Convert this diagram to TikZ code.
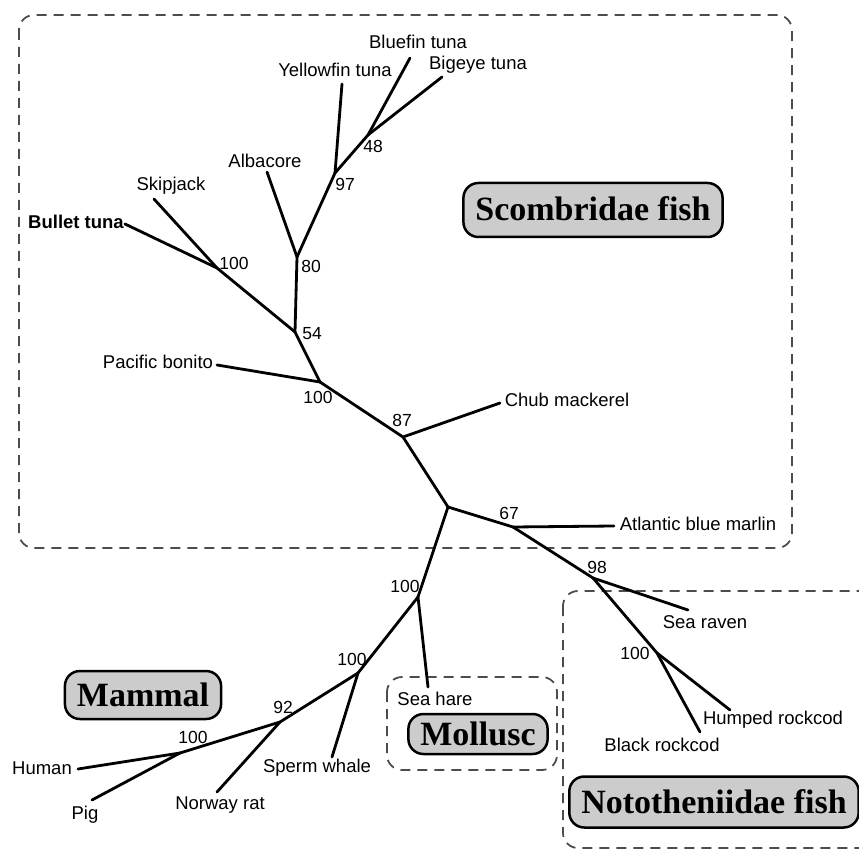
\documentclass[tikz,border=0pt]{standalone}
\usepackage{fontspec}
\setmainfont{Liberation Sans}
\newfontfamily\groupfont{Liberation Serif}

\tikzset{%
  branch/.style={line width=2.8pt, line cap=round},
  species/.style={font=\fontsize{18.5}{20}\selectfont, inner sep=0pt},
  support/.style={font=\fontsize{17.5}{19}\selectfont, inner sep=0pt},
  group box/.style={draw=black!70, line width=1.8pt, dash pattern=on 10pt off 7pt, rounded corners=15pt},
  group label/.style={draw, line width=2.5pt, fill=black!20, rounded corners=15pt,
    font=\groupfont\bfseries\fontsize{34}{36}\selectfont, inner xsep=12pt, inner ysep=0pt,
    text height=23pt, text depth=1pt},
}

\begin{document}
\begin{tikzpicture}[x=1pt, y=-1pt]
\useasboundingbox (0,0) rectangle (859,850);
%=========================================================================================================
% Group boxes
%=========================================================================================================
\draw [group box] (19,15) rectangle (792,548);
\draw [group box] (387,677) rectangle (557,770);
\begin{scope}
  \clip (0,0) rectangle (859,850);
  \draw [group box] (563,591) rectangle (900,848);
\end{scope}

%=========================================================================================================
% Inner nodes of the tree
%=========================================================================================================
\foreach \n/\x/\y in {root/448/507, n87/403/437, n100b/320/382, n54/295/332, n100a/217/268,
                      n80/297/257, n97/335/173, n48/368/135, n67/513/527, n98/593/578,
                      n100c/657/653, n100d/418/597, n100e/358/673, n92/280/722, n100f/180/753}
  \coordinate (\n) at (\x,\y);

%Tips of the branches
\foreach \n/\x/\y in {bluefin/410/58, bigeye/442/77, yellowfin/342/84, albacore/267/172,
                      skipjack/154/199, bullet/125/224, bonito/217/365, chub/500/403,
                      marlin/614/526, raven/688/610, humped/730/710, black/700/732,
                      seahare/428/687, sperm/332/757, rat/217/792, human/78/769, pig/92/800}
  \coordinate (\n) at (\x,\y);

%=========================================================================================================
% Draw branches
%=========================================================================================================
\foreach \a/\b in {root/n87, n87/n100b, n87/chub, n100b/bonito, n100b/n54, n54/n100a, n54/n80,
                   n100a/skipjack, n100a/bullet, n80/albacore, n80/n97, n97/yellowfin, n97/n48,
                   n48/bluefin, n48/bigeye, root/n67, n67/marlin, n67/n98, n98/raven, n98/n100c,
                   n100c/humped, n100c/black, root/n100d, n100d/seahare, n100d/n100e, n100e/sperm,
                   n100e/n92, n92/rat, n92/n100f, n100f/human, n100f/pig}
  \draw [branch] (\a) -- (\b);

%=========================================================================================================
% Species names
%=========================================================================================================
\foreach \n/\x/\y/\l in {bluefin/418/42/Bluefin tuna, bigeye/478/65/Bigeye tuna,
                         yellowfin/335/70/Yellowfin tuna, albacore/265/161/Albacore,
                         skipjack/171/186/Skipjack, bonito/158/362/Pacific bonito,
                         chub/567/400/Chub mackerel, marlin/698/524/Atlantic blue marlin,
                         raven/705/622/Sea raven, humped/773/720/Humped rockcod,
                         black/662/745/Black rockcod, seahare/435/699/Sea hare,
                         sperm/317/768/Sperm whale, rat/220/805/Norway rat,
                         human/42/768/Human, pig/85/815/Pig}
  \node [species] (name-\n) at (\x,\y) {\l};
\node [species, font=\fontsize{18.5}{20}\selectfont\bfseries] (name-bullet) at (76,222) {Bullet tuna};

%Bootstrap values next to the inner nodes
\foreach \n/\x/\y/\l in {n48/373/146/48, n97/345/184/97, n80/311/266/80, n100a/234/263/100,
                         n54/312/334/54, n100b/318/397/100, n87/402/420/87, n67/509/513/67,
                         n98/597/567/98, n100c/635/653/100, n100d/405/586/100,
                         n100e/352/659/100, n92/283/707/92, n100f/193/737/100}
  \node [support] (value-\n) at (\x,\y) {\l};

%=========================================================================================================
% Group headers
%=========================================================================================================
\node [group label, minimum height=54pt] (scombridae) at (593,210) {Scombridae fish};
\node [group label, minimum height=48pt] (mammal) at (143,695) {Mammal};
\node [group label, minimum height=40pt] (mollusc) at (478,734) {Mollusc};
\node [group label, minimum height=51pt] (nototheniidae) at (714,802) {Nototheniidae fish};

\end{tikzpicture}
\end{document}
